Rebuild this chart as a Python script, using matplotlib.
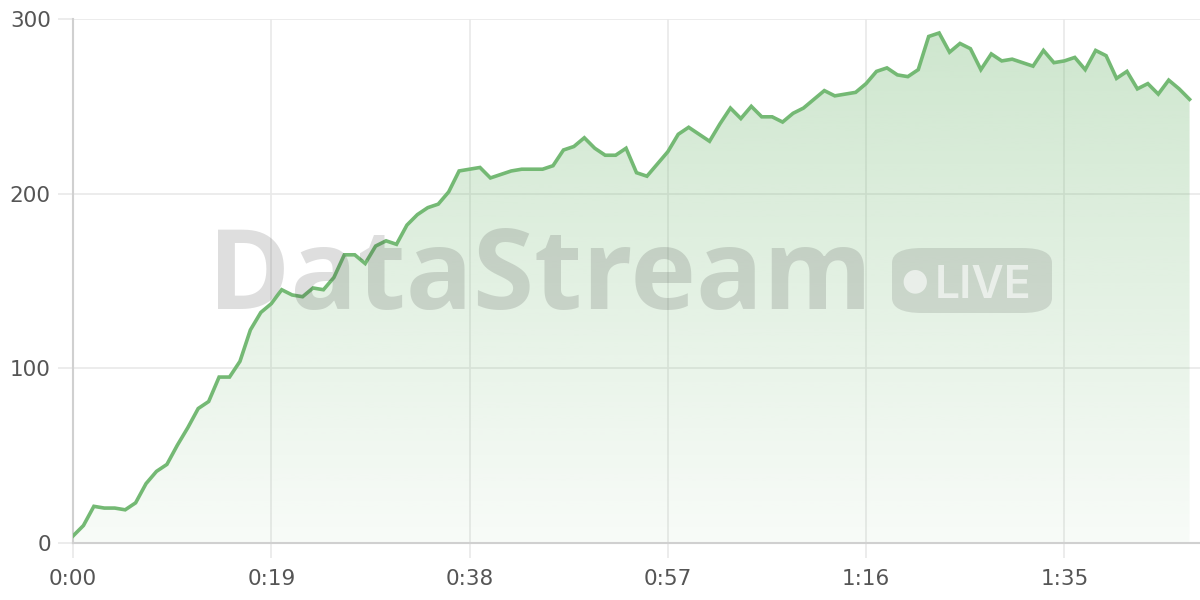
import numpy as np
import matplotlib
matplotlib.use("Agg")
import matplotlib.pyplot as plt
from matplotlib.colors import to_rgb
from matplotlib.patches import FancyBboxPatch

# ---- data ----
seconds = list(range(108))
values = [4, 10, 21, 20, 20, 19, 23, 34, 41, 45,
          56, 66, 77, 81, 95, 95, 104, 122, 132, 137,
          145, 142, 141, 146, 145, 152, 165, 165, 160, 170,
          173, 171, 182, 188, 192, 194, 201, 213, 214, 215,
          209, 211, 213, 214, 214, 214, 216, 225, 227, 232,
          226, 222, 222, 226, 212, 210, 217, 224, 234, 238,
          234, 230, 240, 249, 243, 250, 244, 244, 241, 246,
          249, 254, 259, 256, 257, 258, 263, 270, 272, 268,
          267, 271, 290, 292, 281, 286, 283, 271, 280, 276,
          277, 275, 273, 282, 275, 276, 278, 271, 282, 279,
          266, 270, 260, 263, 257, 265, 260, 254]
x_ticks = [0, 19, 38, 57, 76, 95]
x_labels = ["0:00", "0:19", "0:38", "0:57", "1:16", "1:35"]
y_ticks = [0, 100, 200, 300]
y_labels = ["0", "100", "200", "300"]

GREEN = "#74b974"
GRID = "#e9e9e9"
TEXT = "#555555"
W, H = 1200, 600

plt.rcParams['font.family'] = ['DejaVu Sans']
fig = plt.figure(figsize=(12, 6), dpi=100, facecolor="white")
ax = fig.add_axes([73 / W, 57 / H, (W - 73) / W, (543 - 19) / H])
ax.set_facecolor("white")

# gradient fill clipped to area under the line
poly = ax.fill_between(seconds, values, 0, color="none", lw=0)
n = 256
rgba = np.zeros((n, 1, 4))
rgba[..., :3] = to_rgb(GREEN)
rgba[..., 3] = np.linspace(0.05, 0.36, n).reshape(-1, 1)
im = ax.imshow(rgba, extent=[seconds[0], seconds[-1], 0, 300], origin="lower",
               aspect="auto", zorder=1, interpolation="bilinear")
im.set_clip_path(poly.get_paths()[0], transform=ax.transData)

ax.plot(seconds, values, color=GREEN, lw=2.6, zorder=4, solid_joinstyle="miter")

ax.set_xlim(0, 108)
ax.set_ylim(0, 300)
ax.set_xticks(x_ticks)
ax.set_xticklabels(x_labels)
ax.set_yticks(y_ticks)
ax.set_yticklabels(y_labels)
ax.grid(True, color=GRID, lw=1.2, zorder=0)
ax.set_axisbelow(True)
ax.tick_params(axis="both", length=11, width=1.2, color=GRID, labelsize=15.5,
               labelcolor=TEXT)
ax.tick_params(axis="y", pad=5)
ax.tick_params(axis="x", pad=8)
for s in ["top", "right"]:
    ax.spines[s].set_visible(False)
for s in ["left", "bottom"]:
    ax.spines[s].set_color("#d0d0d0")
    ax.spines[s].set_linewidth(1.5)

# watermark
fig.text(208 / W, 1 - 309 / H, "DataStream", fontsize=80, fontweight="bold",
         family=["Open Sans", "DejaVu Sans"], color=(0.2, 0.2, 0.2, 0.16),
         ha="left", va="baseline", zorder=3)
badge = FancyBboxPatch((892 / W, 1 - 313 / H), (1052 - 892) / W, (313 - 248) / H,
                       boxstyle="round,pad=0,rounding_size=0.025",
                       transform=fig.transFigure, facecolor=(0.2, 0.2, 0.2, 0.14),
                       edgecolor="none", zorder=3)
fig.patches.append(badge)
fig.text(915 / W, 1 - 281 / H, "\u25CF", fontsize=22, color=(1, 1, 1, 0.6),
         ha="center", va="center", family=["DejaVu Sans"], zorder=4)
fig.text(935 / W, 1 - 298 / H, "LIVE", fontsize=32, fontweight="semibold",
         family=["Inter", "DejaVu Sans"], color=(1, 1, 1, 0.6),
         ha="left", va="baseline", zorder=4)

fig.savefig("out.png", dpi=100, facecolor="white")
